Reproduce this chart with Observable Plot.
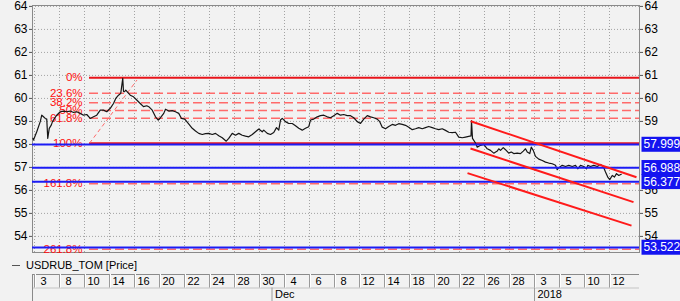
<!DOCTYPE html>
<html><head><meta charset="utf-8">
<script src="https://cdn.jsdelivr.net/npm/d3@7"></script>
<script src="https://cdn.jsdelivr.net/npm/@observablehq/plot@0.6"></script>
<style>
html,body{margin:0;padding:0;background:#f2f2f2;}
body{width:680px;height:301px;overflow:hidden;font-family:"Liberation Sans",Arial,sans-serif;}
#main svg,#strip svg{display:block;}
#legend{height:17px;position:relative;font-size:11px;color:#000;}
#legend .dash{position:absolute;left:12px;top:9px;width:8px;height:1px;background:#555;}
#legend .txt{position:absolute;left:26px;top:3px;line-height:13px;white-space:nowrap;}
</style></head><body>
<div id="main"></div>
<div id="legend"><span class="dash"></span><span class="txt">USDRUB_TOM [Price]</span></div>
<div id="strip"></div>
<script>
// ---- data ----
// trading-day index (0 = first labelled day "3" Nov) of each price sample
const dayIdx = [
 -0.12,-0.08,0.18,0.46,0.58,0.72,0.86,0.98,1.06,1.18,
 1.34,1.44,1.6,1.78,2.06,2.32,2.58,2.86,3.12,3.38,
 3.66,3.92,4.18,4.46,4.72,4.98,5.26,5.52,5.78,6.06,
 6.32,6.5,6.72,6.9,7.06,7.12,7.2,7.3,7.46,7.66,
 7.92,8.18,8.46,8.72,8.98,9.14,9.42,9.68,9.9,10.08,
 10.34,10.48,10.74,11.02,11.28,11.54,11.76,12.02,12.3,12.62,
 12.88,13.14,13.42,13.68,13.94,14.22,14.48,14.74,15.02,15.34,
 15.54,15.82,16.08,16.34,16.62,16.88,17.14,17.42,17.68,17.94,
 18.22,18.34,18.62,18.88,19.14,19.36,19.54,19.68,19.82,20.08,
 20.34,20.62,20.88,21.14,21.42,21.68,21.94,22.08,22.34,22.62,
 22.88,23.14,23.42,23.68,23.94,24.22,24.48,24.74,25.02,25.28,
 25.54,25.82,26.08,26.34,26.62,26.88,27.14,27.42,27.62,27.82,
 28.08,28.34,28.62,28.88,29.14,29.42,29.68,29.94,30.22,30.48,
 30.74,31.02,31.28,31.54,31.82,32.08,32.34,32.62,32.88,33.14,
 33.42,33.68,33.94,34.22,34.48,34.74,34.92,34.96,35.04,35.28,
 35.42,35.68,35.94,36.22,36.48,36.74,37.02,37.14,37.28,37.5,
 37.68,37.94,38.14,38.34,38.62,38.88,39.1,39.28,39.42,39.62,
 39.74,39.9,40.08,40.34,40.62,40.88,41.14,41.42,41.68,41.82,
 41.94,42.22,42.48,42.74,43.02,43.28,43.46,43.68,43.94,44.16,
 44.26,44.48,44.74,45.02,45.28,45.5,45.68,45.86,46.02,46.22,
 46.4,46.56,46.74,46.94
];
const prices = [
 58.26,58.19,58.55,58.99,59.27,59.20,59.13,59.10,58.26,58.70,
 58.84,58.99,59.13,59.27,59.42,59.45,59.42,59.45,59.39,59.42,
 59.35,59.27,59.30,59.13,59.20,59.27,59.49,59.49,59.42,59.57,
 59.78,60.00,60.14,60.22,60.87,60.30,60.29,60.36,60.26,60.14,
 60.07,59.93,59.78,59.64,59.68,59.64,59.49,59.20,59.06,59.16,
 59.35,59.53,59.45,59.47,59.42,59.35,59.13,59.10,58.91,58.70,
 58.58,58.48,58.43,58.47,58.48,58.43,58.48,58.38,58.29,58.14,
 58.26,58.48,58.40,58.48,58.40,58.36,58.33,58.43,58.55,58.67,
 58.55,58.62,58.48,58.43,58.52,58.73,58.62,59.06,59.13,58.99,
 58.91,58.91,58.81,58.70,58.62,58.70,58.77,59.06,59.10,59.20,
 59.25,59.27,59.20,59.16,59.25,59.35,59.27,59.30,59.25,59.25,
 59.16,58.99,58.91,59.10,59.25,59.20,59.16,59.10,58.99,58.75,
 58.68,58.78,58.87,58.83,58.90,58.87,58.83,58.75,58.64,58.68,
 58.73,58.68,58.73,58.78,58.73,58.68,58.64,58.68,58.61,58.53,
 58.51,58.53,58.32,58.29,58.32,58.35,58.37,59.04,58.26,58.06,
 57.88,57.96,58.00,57.81,57.74,57.62,57.71,57.81,57.74,57.86,
 57.77,57.62,57.67,57.60,57.62,57.60,57.71,57.81,57.67,57.60,
 57.88,57.74,57.48,57.36,57.30,57.23,57.19,57.16,57.09,56.90,
 56.99,57.09,57.04,57.09,57.04,57.09,56.94,57.09,57.04,56.94,
 57.09,57.04,57.09,57.04,57.13,57.04,56.80,56.58,56.47,56.65,
 56.58,56.73,56.65,56.70
];
// Fibonacci retracement tool
const fibHigh = 60.9, fibLow = 58.05;
const fibStartDay = 4.4, fibHighDay = 8.2, fibHighEnd = 60.8;
const fibPercents = [0, 23.6, 38.2, 50, 61.8, 100, 161.8, 261.8];
const fibLabels = ["0%","23.6%","38.2%","50%","61.8%","100%","161.8%","261.8%"];
// horizontal levels (blue)
const levelValues = [57.999, 56.988, 56.377, 53.522];
// trend channel (start day, start price, end day, end price)
const chanX1 = [34.9, 34.88, 34.64];
const chanY1 = [59.01, 57.82, 56.75];
const chanX2 = [48.16, 47.92, 47.76];
const chanY2 = [56.57, 55.49, 54.47];
// axes
const yTicks = [54,55,56,57,58,59,60,61,62,63,64];
const yTicksRight = [54,55,56,59,60,61,62,63,64]; // 57 and 58 sit under the level tags
const dayLabels = ["3","8","10","14","16","20","22","24","28","30","4","6","8","12","14","18","20","22","26","28","3","5","10","12"];
const monthLabels = ["Dec","2018"];
const monthStarts = [19, 40];

// ---- derived tables ----
const priceRows = dayIdx.map((d,i)=>({d, p: prices[i]}));
const fibRows = fibPercents.map((p,i)=>({pct:p, label: fibLabels[i], v: fibHigh - p/100*(fibHigh-fibLow)}));
const fibSolid = fibRows.filter(r=>r.pct===0||r.pct===100);
const fibDashed = fibRows.filter(r=>!(r.pct===0||r.pct===100));
const channels = chanX1.map((x,i)=>({x1:x, y1:chanY1[i], x2:chanX2[i], y2:chanY2[i]}));
const cellStarts = dayLabels.map((_,i)=>2*i);
const dayRows = dayLabels.map((t,i)=>({d:2*i, t}));
const monthRows = monthLabels.map((t,i)=>({d:monthStarts[i], t}));
const tagTexts = levelValues.map(v => v.toFixed(3));

const xDomain = [-0.16, 48.4];
const yDomain = [53.3, 64.04];
const FONT = '"Liberation Sans", Arial, sans-serif';
const gridC = "#a3a3a3";

const main = Plot.plot({
  width: 680, height: 256,
  marginLeft: 32, marginRight: 41, marginTop: 5, marginBottom: 4,
  x: {domain: xDomain, axis: null},
  y: {domain: yDomain, axis: null},
  style: {background: "transparent", fontFamily: FONT, fontSize: "12px", color: "#000", overflow: "visible"},
  marks: [
    Plot.ruleY(yTicks, {stroke: gridC, strokeDasharray: "1,2"}),
    Plot.ruleX(cellStarts, {stroke: gridC, strokeDasharray: "1,2"}),
    Plot.frame({stroke: "#8a8a8a"}),
    Plot.axisY({anchor: "left", ticks: yTicks, tickSize: 3, tickPadding: 2, fontSize: 12, tickFormat: d => String(d), label: null, stroke: "#555", fill: "#000"}),
    Plot.axisY({anchor: "right", ticks: yTicksRight, tickSize: 3, tickPadding: 2, fontSize: 12, tickFormat: d => String(d), label: null, stroke: "#555", fill: "#000"}),
    Plot.ruleY(fibDashed, {y: "v", x1: fibStartDay, x2: xDomain[1], stroke: "#ff6a6a", strokeWidth: 1.6, strokeDasharray: "9,4"}),
    Plot.ruleY(fibSolid, {y: "v", x1: fibStartDay, x2: xDomain[1], stroke: "#e8141b", strokeWidth: 2}),
    Plot.link([{x1: fibStartDay, y1: fibLow, x2: fibHighDay, y2: fibHighEnd}], {x1:"x1", y1:"y1", x2:"x2", y2:"y2", stroke: "#ff6a6a", strokeWidth: 1, strokeDasharray: "4,3"}),
    Plot.text(fibRows, {x: () => fibStartDay, y: "v", text: "label", textAnchor: "end", dx: -7, fill: "#ff0f0f", fontSize: 11.5}),
    Plot.line(priceRows, {x: "d", y: "p", stroke: "#151515", strokeWidth: 1.2}),
    Plot.ruleY(levelValues, {stroke: "#1c1cf5", strokeWidth: 2}),
    Plot.link(channels, {x1: "x1", y1: "y1", x2: "x2", y2: "y2", stroke: "#ff1a1a", strokeWidth: 2}),
    Plot.text(levelValues, {y: d => d, text: d => d.toFixed(3), frameAnchor: "right", textAnchor: "start", dx: 4, fill: "#fff", fontSize: 12})
  ]
});
document.getElementById("main").append(main);
d3.select(main).selectAll("text")
  .filter(function(){ return tagTexts.includes(this.textContent); })
  .each(function(){
    const node = this;
    const b = node.getBBox();
    const r = document.createElementNS("http://www.w3.org/2000/svg", "rect");
    const tr = node.getAttribute("transform");
    if (tr) r.setAttribute("transform", tr);
    r.setAttribute("x", b.x - 2);
    r.setAttribute("y", b.y - 0.5);
    r.setAttribute("width", b.width + 6);
    r.setAttribute("height", b.height + 1);
    r.setAttribute("fill", "#1414f0");
    node.parentNode.insertBefore(r, node);
  });

const strip = Plot.plot({
  width: 680, height: 28,
  marginLeft: 32, marginRight: 41, marginTop: 1, marginBottom: 0,
  x: {domain: xDomain, axis: null},
  y: {domain: [0, 2], axis: null},
  style: {background: "transparent", fontFamily: FONT, fontSize: "11px", color: "#000", overflow: "visible"},
  marks: [
    Plot.ruleY([2], {stroke: "#8a8a8a"}),
    Plot.ruleY([1], {stroke: "#c4c4c4"}),
    Plot.ruleX(cellStarts, {y1: 1, y2: 2, stroke: "#9a9a9a"}),
    Plot.ruleX(cellStarts, {y1: 1, y2: 2, stroke: "#ffffff", dx: 1}),
    Plot.ruleX([xDomain[0]], {y1: 0, y2: 2, stroke: "#8a8a8a"}),
    Plot.ruleX(monthStarts, {y1: 0, y2: 1, stroke: "#9a9a9a"}),
    Plot.text(dayRows.filter(r => r.t.length === 1), {x: "d", y: () => 1.5, text: "t", textAnchor: "start", dx: 6, fill: "#000", fontSize: 11}),
    Plot.text(dayRows.filter(r => r.t.length > 1), {x: "d", y: () => 1.5, text: "t", textAnchor: "start", dx: 3, fill: "#000", fontSize: 11}),
    Plot.text(monthRows, {x: "d", y: () => 0.5, text: "t", textAnchor: "start", dx: 3, fill: "#000", fontSize: 11})
  ]
});
document.getElementById("strip").append(strip);
</script>
</body></html>
